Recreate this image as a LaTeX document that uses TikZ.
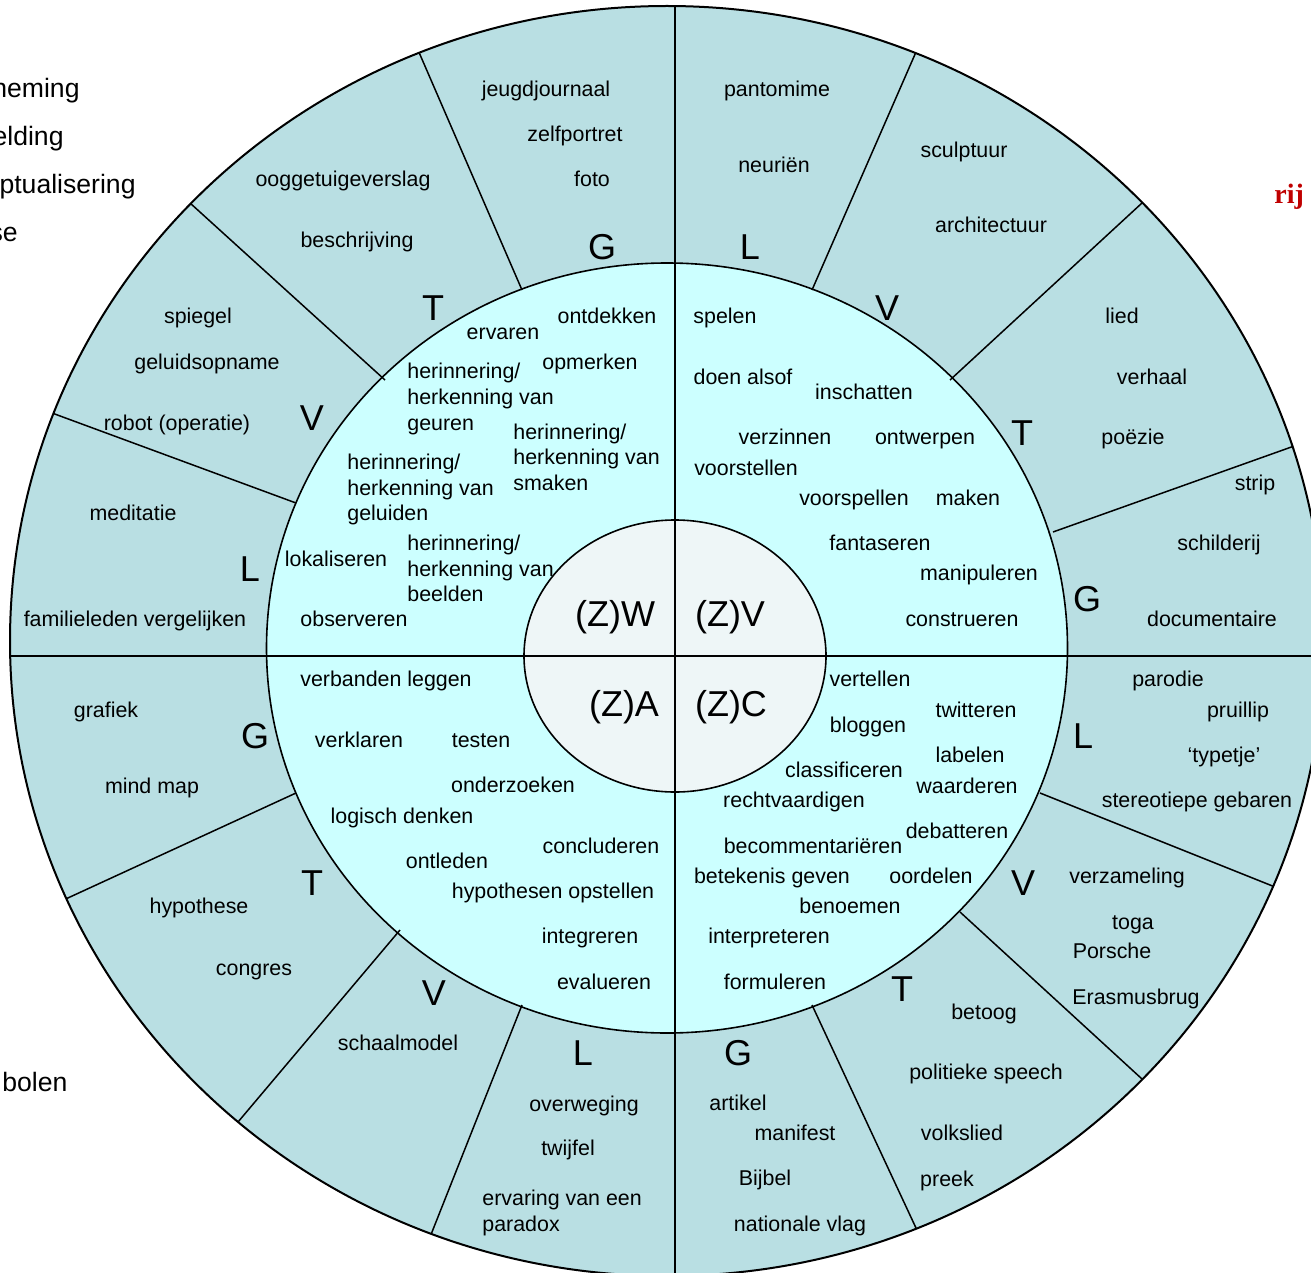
\documentclass[tikz,border=0pt]{standalone}
\usepackage{fontspec}
\setmainfont{Liberation Sans}
\newfontfamily\redserif{Liberation Serif}
\usetikzlibrary{calc}
\definecolor{ringblue}{HTML}{B9DFE3}
\definecolor{midcyan}{HTML}{CCFFFF}
\definecolor{innergray}{HTML}{EEF6F7}
\definecolor{darkred}{HTML}{C00000}
\tikzset{
  sm/.style={font=\fontsize{10.7}{12}\selectfont, inner sep=0pt, anchor=base, yshift=-3.5pt},
  smw/.style={sm, anchor=base west},
  big/.style={font=\fontsize{18}{20}\selectfont, inner sep=0pt, anchor=base, yshift=-6.5pt},
  side/.style={font=\fontsize{13.3}{15}\selectfont, inner sep=0pt, anchor=base east, yshift=-4.5pt},
  radial/.style={line width=0.75pt},
  rim/.style={line width=1pt},
  outerring/.style={insert path={(667,641) ellipse [x radius=328.5pt, y radius=317.5pt]}},
}
\begin{document}
\begin{tikzpicture}[x=0.5pt,y=-0.5pt]
\useasboundingbox (0,0) rectangle (1311,1273);
\clip (0,0) rectangle (1311,1273);
% outer ring
\fill[ringblue, outerring];
% middle disc
\filldraw[fill=midcyan, line width=0.8pt] (667,648) ellipse [x radius=200.25pt, y radius=192.5pt];
% radial dividers
\begin{scope}
\clip[outerring];
\foreach \ax/\ay/\bx/\by [count=\i] in {
  522/290/418/50, 385/380/190/203, 296/503/52/413,
  812/290/916/52, 950/380/1142/203, 1053/532/1297/445,
  1040/793/1265/883, 960/912/1142/1079, 812/1005/916/1228,
  296/793/70/897, 400/930/238/1122, 522/1005/432/1232}{
  \coordinate (ri\i) at (\ax,\ay);
  \coordinate (ro\i) at (\bx,\by);
  \draw[radial] (ri\i) -- ($(ri\i)!1.25!(ro\i)$);
}
\end{scope}
% inner disc
\filldraw[fill=innergray, line width=0.8pt] (675,656) ellipse [x radius=75.5pt, y radius=68pt];
% cross lines
\begin{scope}
\clip[outerring];
\coordinate (vt) at (675,0);
\coordinate (vb) at (675,1273);
\coordinate (hl) at (0,656);
\coordinate (hr) at (1311,656);
\draw[rim] (vt) -- (vb);
\draw[rim] (hl) -- (hr);
\end{scope}
\draw[rim, outerring];

% centre labels
\node[big] (zw) at (615,613) {(Z)W};
\node[big] (zv) at (730,613) {(Z)V};
\node[big] (za) at (624,703) {(Z)A};
\node[big] (zc) at (731,703) {(Z)C};

% ring letters
\foreach \x/\y/\s [count=\i] in {
  602/247/G, 750/247/L, 887/307/V, 1022/432/T, 1087/598/G, 1083/735/L,
  1023/882/V, 902/988/T, 738/1052/G, 583/1052/L, 434/992/V, 312/882/T,
  255/735/G, 250/568/L, 312/417/V, 433/307/T}{
  \node[big] (k\i) at (\x,\y) {\s};
}

% outer ring words
\foreach \x/\y/\s [count=\i] in {
  546/90/jeugdjournaal, 575/135/zelfportret, 592/180/foto,
  343/180/ooggetuigeverslag, 357/241/beschrijving,
  198/316/spiegel, 207/362/geluidsopname, 177/423/robot (operatie),
  133/513/meditatie, 135/619/familieleden vergelijken,
  106/710/grafiek, 152/786/mind map,
  199/906/hypothese, 254/968/congres,
  398/1043/schaalmodel,
  584/1104/overweging, 568/1148/twijfel,
  777/90/pantomime, 774/166/neuriën,
  964/151/sculptuur, 991/226/architectuur,
  1122/316/lied, 1152/377/verhaal, 1133/437/poëzie,
  1255/483/strip, 1219/543/schilderij, 1212/619/documentaire,
  1168/679/parodie, 1238/710/pruillip, 1224/755/‘typetje’, 1197/800/stereotiepe gebaren,
  1127/876/verzameling, 1133/922/toga, 1112/951/Porsche, 1136/997/Erasmusbrug,
  984/1012/betoog, 986/1072/politieke speech, 962/1133/volkslied, 947/1179/preek,
  738/1103/artikel, 795/1133/manifest, 765/1178/Bijbel, 800/1224/nationale vlag}{
  \node[sm] (o\i) at (\x,\y) {\s};
}
\node[smw] (par1) at (482,1198) {ervaring van een};
\node[smw] (par2) at (482,1224) {paradox};

% middle ring words
\foreach \x/\y/\s [count=\i] in {
  607/316/ontdekken, 503/332/ervaren, 590/362/opmerken,
  336/559/lokaliseren, 354/619/observeren,
  725/316/spelen, 743/377/doen alsof, 864/392/inschatten,
  785/437/verzinnen, 925/437/ontwerpen, 746/468/voorstellen,
  854/498/voorspellen, 968/498/maken, 880/543/fantaseren,
  979/573/manipuleren, 962/619/construeren,
  386/679/verbanden leggen, 359/740/verklaren, 481/740/testen,
  513/785/onderzoeken, 402/816/logisch denken, 601/846/concluderen,
  447/861/ontleden, 553/891/hypothesen opstellen, 590/936/integreren,
  604/982/evalueren,
  870/679/vertellen, 976/710/twitteren, 868/725/bloggen, 970/755/labelen,
  844/770/classificeren, 967/786/waarderen, 794/800/rechtvaardigen,
  957/831/debatteren, 813/846/becommentariëren, 772/876/betekenis geven,
  931/876/oordelen, 850/906/benoemen, 769/936/interpreteren, 775/982/formuleren}{
  \node[sm] (m\i) at (\x,\y) {\s};
}
% herinnering groups
\node[smw] (ga1) at (407,371) {herinnering/};
\node[smw] (ga2) at (407,397) {herkenning van};
\node[smw] (ga3) at (407,423) {geuren};
\node[smw] (gb1) at (513,432) {herinnering/};
\node[smw] (gb2) at (513,457) {herkenning van};
\node[smw] (gb3) at (513,483) {smaken};
\node[smw] (gc1) at (347,462) {herinnering/};
\node[smw] (gc2) at (347,488) {herkenning van};
\node[smw] (gc3) at (347,513) {geluiden};
\node[smw] (gd1) at (407,543) {herinnering/};
\node[smw] (gd2) at (407,569) {herkenning van};
\node[smw] (gd3) at (407,594) {beelden};

% cut-off side texts
\node[side] (s1) at (80,89) {neming};
\node[side] (s2) at (64,137) {elding};
\node[side] (s3) at (136,185) {ptualisering};
\node[side] (s4) at (18,233) {se};
\node[side, anchor=base west] (s5) at (2,1082) {bolen};
\node[font=\redserif\bfseries\fontsize{14}{16}\selectfont, text=darkred, inner sep=0pt, anchor=base west] (red) at (1274,204) {rij};
\end{tikzpicture}
\end{document}
